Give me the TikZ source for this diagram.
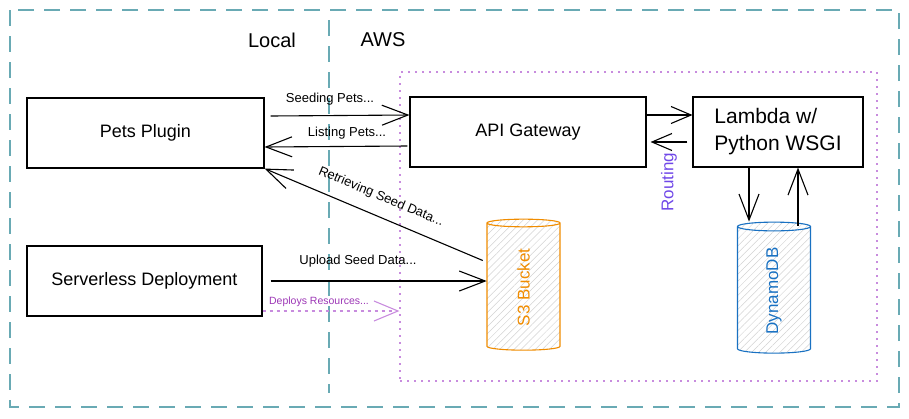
\documentclass[tikz,border=0pt]{standalone}
\usepackage{fontspec}
\setmainfont{Liberation Sans}
\usepackage{xcolor}
\usetikzlibrary{positioning,arrows.meta,shapes.geometric,patterns.meta}

\definecolor{zoneteal}{RGB}{105,170,180}
\definecolor{awspurple}{RGB}{200,140,222}
\definecolor{deploypurple}{RGB}{156,54,181}
\definecolor{routeviolet}{RGB}{112,72,232}
\definecolor{s3orange}{RGB}{240,140,0}
\definecolor{ddbblue}{RGB}{25,113,194}

\tikzset{
    box/.style={draw, line width=1.1pt, minimum width=237pt, minimum height=70pt,
        font=\fontsize{18}{21}\selectfont},
    store/.style={cylinder, rotate=90, draw, line width=1.1pt, minimum width=73pt,
        minimum height=131pt, aspect=0.4, font=\fontsize{17}{20}\selectfont,
        pattern={Lines[angle=45,distance=5pt,line width=0.5pt]}, pattern color=gray!35},
    flow/.style={line width=1.1pt, -{Straight Barb[length=26pt,width=20pt]}},
    lbl/.style={font=\fontsize{13}{15}\selectfont},
    zone/.style={zoneteal, line width=1.2pt, dash pattern=on 16pt off 10pt},
    awszone/.style={draw=awspurple, line width=1.2pt, dash pattern=on 2pt off 5pt}
}

\begin{document}
\begin{tikzpicture}[x=1pt,y=-1pt]
            \useasboundingbox (0,0) rectangle (909,418);
            % zones
            \draw [zone](10,10) rectangle (899,407);
            \draw [zone](329,20)--(329,393);
            \node [font=\fontsize{20}{24}\selectfont] (local) at (272,40) {Local};
            \node [font=\fontsize{20}{24}\selectfont] (aws) at (383,40) {AWS};
            \node [awszone, minimum width=477pt, minimum height=309pt] (awsbox) at (638.5,226.5) {};
            % boxes
            \node [box] (pets) at (145.5,133) {Pets Plugin};
            \node [box, minimum width=235pt] (dep) at (144.5,281) {Serverless Deployment};
            \node [box, minimum width=236pt] (api) at (528,132) {API Gateway};
            \node [box, minimum width=170pt, align=left, font=\fontsize{21}{27}\selectfont] (lam) at (778,132) {Lambda w/\\Python WSGI};
            \node [store, draw=s3orange, text=s3orange] (s3) at (523.5,287.5) {S3 Bucket};
            \node [store, draw=ddbblue, text=ddbblue] (ddb) at (774,291) {DynamoDB};
            % arrows
            \draw [flow]([xshift=6pt,yshift=17pt]pets.east)--([yshift=17pt]api.west);
            \draw [flow]([xshift=-2pt,yshift=-14pt]api.west)--([yshift=-14pt]pets.east);
            \node [lbl] (seedl) at (330,99) {Seeding Pets...};
            \node [lbl] (listl) at (347,133) {Listing Pets...};
            \draw [flow]([xshift=-4pt,yshift=27pt]s3.north)--(pets.south east);
            \node [lbl, rotate=-22.8] (retl) at (381,197) {Retrieving Seed Data...};
            \draw [flow]([xshift=8pt]dep.east)--(dep.east -| s3.north);
            \node [lbl] (upl) at (358,261) {Upload Seed Data...};
            \draw [awspurple, line width=1.1pt, dash pattern=on 3pt off 4pt, -{Straight Barb[length=24pt,width=20pt]}]([yshift=-30pt]dep.east)--([yshift=-30pt]dep.east -| awsbox.west);
            \node [font=\fontsize{10.5}{12}\selectfont, text=deploypurple] (depl) at (319,302) {Deploys Resources...};
            \draw [flow, -{Straight Barb[length=20pt,width=17pt]}]([yshift=17pt]api.east)--([yshift=17pt]lam.west);
            \draw [flow, -{Straight Barb[length=20pt,width=17pt]}]([xshift=-5pt,yshift=-10pt]lam.west)--([xshift=4pt,yshift=-10pt]api.east);
            \node [rotate=90, text=routeviolet, font=\fontsize{17}{20}\selectfont] (routel) at (669,182) {Routing};
            \draw [flow]([xshift=-29pt]lam.south)--([xshift=-29pt]lam.south |- ddb.east);
            \draw [flow]([xshift=20pt,yshift=-4pt]lam.south |- ddb.east)--([xshift=20pt]lam.south);
\end{tikzpicture}
\end{document}
